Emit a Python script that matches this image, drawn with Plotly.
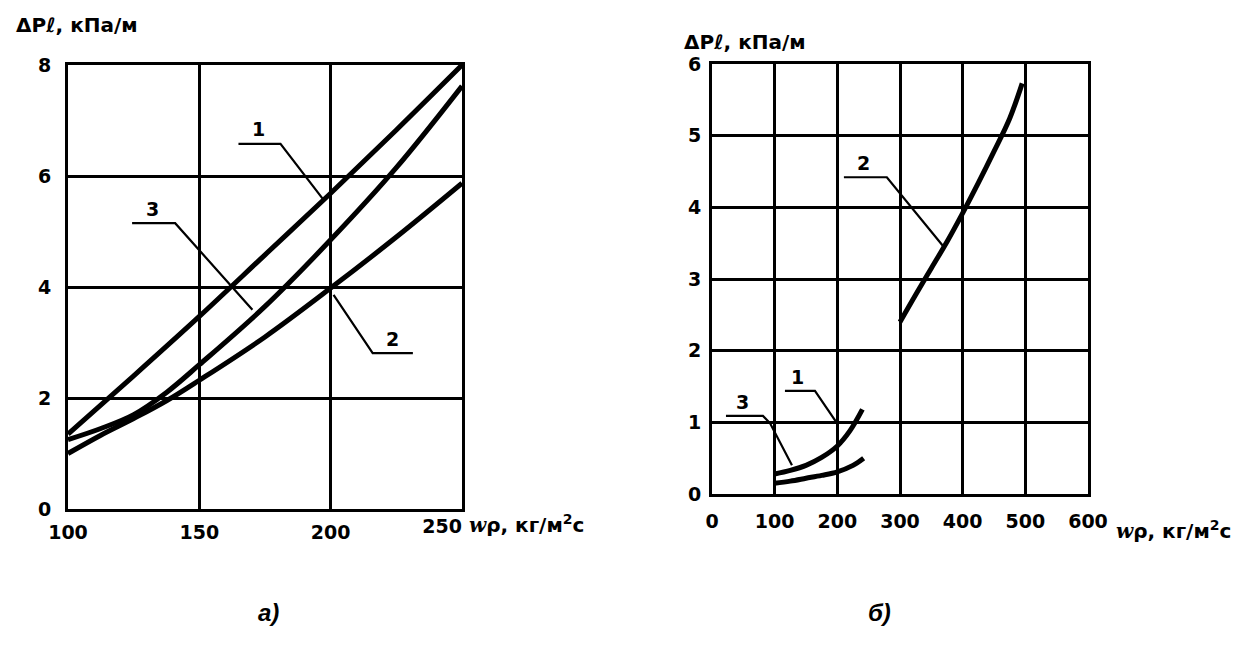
import plotly.graph_objects as go

# ---------------- data ----------------
# panel a)
a_x1 = [100, 125, 150, 175, 200, 225, 250]
a_y1 = [1.35, 2.4, 3.47, 4.58, 5.69, 6.83, 8.0]
a_x3 = [100, 112.5, 125, 137.5, 150, 175, 200, 225, 250]
a_y3 = [1.25, 1.45, 1.7, 2.1, 2.6, 3.65, 4.85, 6.15, 7.62]
a_x2 = [100, 112.5, 125, 137.5, 150, 175, 200, 225, 250]
a_y2 = [1.0, 1.33, 1.63, 1.95, 2.32, 3.1, 3.98, 4.9, 5.87]
a_xticks = [100, 150, 200, 250]
a_yticks = [0, 2, 4, 6, 8]

# panel б)
b_x1 = [100, 125, 150, 175, 200, 220, 240]
b_y1 = [0.28, 0.33, 0.40, 0.51, 0.67, 0.88, 1.18]
b_x3 = [100, 125, 150, 175, 200, 225, 242]
b_y3 = [0.15, 0.18, 0.22, 0.26, 0.31, 0.40, 0.50]
b_x2 = [300, 325, 350, 375, 400, 425, 450, 475, 495]
b_y2 = [2.40, 2.78, 3.15, 3.52, 3.92, 4.34, 4.78, 5.24, 5.73]
b_xticks = [0, 100, 200, 300, 400, 500, 600]
b_yticks = [0, 1, 2, 3, 4, 5, 6]

y_title = "ΔP<i>ℓ</i>, кПа/м"
x_title = "<span style='font-family:DejaVu Serif'><i>w</i></span>ρ, кг/м<sup>2</sup>с"

W, H = 1255, 645
OFF = 8  # page offset of the figure inside the browser window
def px(x):
    return (x - OFF) / W
def py(y):
    return 1 - (y - OFF) / H

fig = go.Figure()
line = dict(color="black", width=5, shape="spline")
for xs, ys, nm in [(a_x1, a_y1, "1"), (a_x3, a_y3, "3"), (a_x2, a_y2, "2")]:
    fig.add_trace(go.Scatter(x=xs, y=ys, mode="lines", name=nm, line=line,
                             xaxis="x", yaxis="y", showlegend=False))
for xs, ys, nm in [(b_x1, b_y1, "1"), (b_x3, b_y3, "3"), (b_x2, b_y2, "2")]:
    fig.add_trace(go.Scatter(x=xs, y=ys, mode="lines", name=nm, line=line,
                             xaxis="x2", yaxis="y2", showlegend=False))

tickfont = dict(family="DejaVu Sans", size=19, color="black", weight="bold")
axcommon = dict(showline=True, linecolor="black", linewidth=3, mirror=True,
                showgrid=True, gridcolor="black", gridwidth=2.5, zeroline=False,
                ticks="", tickfont=tickfont, automargin=False)

fig.update_layout(
    width=W, height=H, margin=dict(l=0, r=0, t=0, b=0, autoexpand=False),
    paper_bgcolor="white", plot_bgcolor="white",
    xaxis=dict(domain=[px(68), px(462)], range=[100, 250], tickvals=a_xticks[:-1],
               anchor="y", ticklabelstandoff=4, **axcommon),
    # last tick label of panel a) sits left of its grid line, as in the original
    xaxis3=dict(overlaying="x", matches="x", anchor="y", side="bottom",
                tickvals=a_xticks[-1:], ticklabelposition="outside left",
                showgrid=False, showline=False, zeroline=False, ticks="",
                tickfont=tickfont, ticklabelstandoff=4, automargin=False),
    yaxis=dict(domain=[py(509), py(65)], range=[0, 8], tickvals=a_yticks,
               anchor="x", ticklabelstandoff=10, **axcommon),
    xaxis2=dict(domain=[px(712), px(1088)], range=[0, 600], tickvals=b_xticks,
                anchor="y2", ticklabelstandoff=8, **axcommon),
    yaxis2=dict(domain=[py(494), py(64)], range=[0, 6], tickvals=b_yticks,
                anchor="x2", ticklabelstandoff=4, **axcommon),
)
# the overlay axis needs a trace to be drawn
fig.add_trace(go.Scatter(x=a_x1[-1:], y=a_y1[-1:], mode="lines", xaxis="x3", yaxis="y",
                         showlegend=False, hoverinfo="skip",
                         line=dict(color="rgba(0,0,0,0)")))

# leader lines (label underline + pointer) in axis coordinates
leaders = [
    ("x", "y", [(164.9, 6.58), (180.9, 6.58), (197.3, 5.57)], "1", (172.5, 6.6)),
    ("x", "y", [(124.4, 5.15), (140.8, 5.15), (170.2, 3.59)], "3", (132.0, 5.15)),
    ("x", "y", [(231.3, 2.81), (216.0, 2.81), (201.1, 3.86)], "2", (223.5, 2.81)),
    ("x2", "y2", [(210.5, 4.42), (279.0, 4.42), (371.6, 3.43)], "2", (241.0, 4.42)),
    ("x2", "y2", [(116.4, 1.44), (164.3, 1.44), (199.4, 0.99)], "1", (137.0, 1.44)),
    ("x2", "y2", [(22.3, 1.09), (81.3, 1.09), (92.5, 0.99), (127.6, 0.40)], "3", (48.0, 1.09)),
]
for xr, yr, pts, label, tp in leaders:
    path = "M " + " L ".join(f"{x},{y}" for x, y in pts)
    fig.add_shape(type="path", path=path, xref=xr, yref=yr,
                  line=dict(color="black", width=2.2))
    fig.add_annotation(x=tp[0], y=tp[1], xref=xr, yref=yr, text=label,
                       showarrow=False, yanchor="bottom", yshift=1,
                       font=dict(family="DejaVu Sans", size=19, color="black", weight="bold"))

titlefont = dict(family="DejaVu Sans", size=20, color="black", weight="bold")
fig.add_annotation(x=px(14), y=py(25), xref="paper", yref="paper", text=y_title,
                   showarrow=False, xanchor="left", yanchor="middle", font=titlefont)
fig.add_annotation(x=px(682), y=py(42), xref="paper", yref="paper", text=y_title,
                   showarrow=False, xanchor="left", yanchor="middle", font=titlefont)
fig.add_annotation(x=px(467), y=py(524), xref="paper", yref="paper", text=x_title,
                   showarrow=False, xanchor="left", yanchor="middle", font=titlefont)
fig.add_annotation(x=px(1114), y=py(530), xref="paper", yref="paper", text=x_title,
                   showarrow=False, xanchor="left", yanchor="middle", font=titlefont)

subfont = dict(family="Liberation Sans", size=24, color="black", style="italic", weight="bold")
fig.add_annotation(x=px(256), y=py(628), xref="paper", yref="paper", text="а)",
                   showarrow=False, font=subfont)
fig.add_annotation(x=px(893), y=py(628), xref="paper", yref="paper", text="б)",
                   showarrow=False, font=subfont)

fig.write_html("out.html")
